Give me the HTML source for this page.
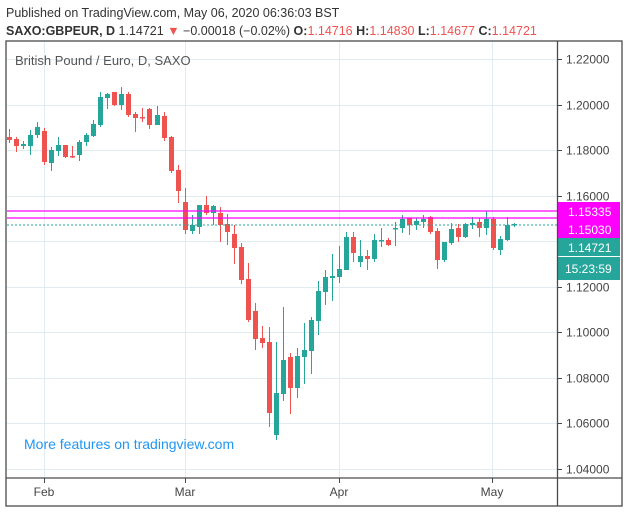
<!DOCTYPE html>
<html><head><meta charset="utf-8"><style>
html,body{margin:0;padding:0;background:#fff;width:629px;height:513px;overflow:hidden}
svg{display:block;font-family:"Liberation Sans",sans-serif}
</style></head><body>
<svg id="s" width="629" height="513" viewBox="0 0 629 513" xmlns="http://www.w3.org/2000/svg">
<rect width="629" height="513" fill="#fff"/>
<text x="6" y="17" font-size="12.5" fill="#333">Published on TradingView.com, May 06, 2020 06:36:03 BST</text>
<text x="6" y="35" font-size="12.5" fill="#333"><tspan font-weight="bold">SAXO:GBPEUR, D</tspan> 1.14721 <tspan fill="#ef5350">▼</tspan> −0.00018 (−0.02%) <tspan font-weight="bold">O:</tspan><tspan fill="#ef5350">1.14716</tspan> <tspan font-weight="bold">H:</tspan><tspan fill="#ef5350">1.14830</tspan> <tspan font-weight="bold">L:</tspan><tspan fill="#ef5350">1.14677</tspan> <tspan font-weight="bold">C:</tspan><tspan fill="#ef5350">1.14721</tspan></text>
<g id="grid" stroke="#e1ecf2" stroke-width="1"></g>
<g id="c"></g>
<line x1="7" y1="211" x2="557" y2="211" stroke="#ff00ff" stroke-width="1.3"/>
<line x1="7" y1="218" x2="557" y2="218" stroke="#ff00ff" stroke-width="1.3"/>
<line x1="7" y1="225" x2="557" y2="225" stroke="#26a69a" stroke-width="1" stroke-dasharray="2,2"/>
<text x="15" y="65" font-size="13" fill="#555">British Pound / Euro, D, SAXO</text>
<text x="24" y="449" font-size="14" fill="#2196f3">More features on tradingview.com</text>
<g id="ax" font-size="12" fill="#444"></g>
<rect x="558" y="202" width="62" height="36" fill="#ff00ff"/>
<text x="568" y="216" font-size="12" fill="#fff">1.15335</text>
<text x="568" y="234" font-size="12" fill="#fff">1.15030</text>
<rect x="558" y="238" width="62" height="18" fill="#26a69a"/>
<text x="568" y="252" font-size="12" fill="#fff">1.14721</text>
<rect x="558" y="257" width="62" height="23" fill="#26a69a"/>
<text x="565" y="273" font-size="12" fill="#fff">15:23:59</text>
<g fill="none" stroke="#4a4a4a" stroke-width="1.3">
<rect x="6" y="41" width="616" height="465"/>
<line x1="557.5" y1="41" x2="557.5" y2="506"/>
<line x1="6" y1="478" x2="622" y2="478"/>
</g>
</svg>
<script>
var NS="http://www.w3.org/2000/svg";
function el(p,t,a,txt){var e=document.createElementNS(NS,t);for(var k in a)e.setAttribute(k,a[k]);if(txt)e.textContent=txt;p.appendChild(e);return e;}
var g=document.getElementById('grid'),ax=document.getElementById('ax');
[44,185,339,492].forEach(function(x){el(g,'line',{x1:x+.5,y1:41,x2:x+.5,y2:478});});
var labs=["Feb","Mar","Apr","May"],xs=[44,185,339,492];
for(var i=0;i<4;i++){el(ax,'text',{x:xs[i],y:496,'text-anchor':'middle'},labs[i]);el(ax,'line',{x1:xs[i]+.5,y1:478,x2:xs[i]+.5,y2:483,stroke:'#4a4a4a'});}
for(var p=0;p<10;p++){var v=1.22-p*0.02,y=59+p*0.02*2278;y=Math.round(y)+.5;
 el(g,'line',{x1:7,y1:y,x2:557,y2:y});
 el(ax,'line',{x1:557,y1:y,x2:562,y2:y,stroke:'#4a4a4a'});
 if(p!=4)el(ax,'text',{x:566,y:y+4},v.toFixed(5));}
// [x, open, close, high, low] in y pixels
var d=[[9,137,140,129,143],[16,139,146,137,152],[23,146,144,141,149],[30,146,135,130,155],[37,135,127,122,138],
[44,131,162,128,165],[51,163,150,147,171],[58,151,145,137,156],[65,145,157,145,158],[72,156,156.5,146,158],
[79,155,142,140,161],[86,142,135,133,146],[93,136,124,120,137],[100,125,97,92,127],[107,98,94,93,109],
[114,92,105,92,106],[121,105,94,87,110],[128,94,115,92,117],[135,114,118,112,132],[142,117,117.5,108,122],
[149,109,125,108,129],[157,125,115,106,125],[164,116,138,112,141],[171,137,171,136,173],[178,170,191,165,203],
[185,202,230,188,234],[192,231,225,215,234],[199,227,205,205,234],[206,205,213,196,215],[213,213,206,205,225],
[220,213,225,207,242],[227,224,232,214,245],[234,234,248,225,264],[241,247,280,243,284],[248,279,320,263,322],
[255,311,339,303,350],[262,338,343,326,348],[269,342,413,327,427],[276,435,393,342,440],[283,394,360,307,401],
[290,357,388,353,414],[297,388,356,348,398],[304,357,350,323,384],[311,351,320,317,374],[318,321,291,281,335],
[325,292,277,270,305],[332,278,276,254,301],[339,277,269,246,283],[346,270,237,232,270],[353,237,253,232,262],
[360,262,256,240,267],[367,256,259,250,270],[374,259,240,234,262],[381,240.5,240,228,247],[388,240,245,238,246],
[395,228.5,228,222,246],[402,228,219,215,233],[409,218,225,218,235],[416,225,221,218,230],[423,222,219,215,228],
[430,217,232,216,234],[437,231,260,228,269],[444,260,242,242,262],[451,243,229,223,245],[458,228,237,224,242],
[465,237,224,223,238],[472,225,223,217,229],[479,222,228,218,237],[486,228,219,211,235],[493,219,248,217,250],
[500,250,239,236,255],[507,240,225,217,241],[514,224.5,224,223,227]];
var c=document.getElementById('c');
d.forEach(function(k){var up=k[2]<k[1],col=up?'#26a69a':'#ef5350';
 el(c,'line',{x1:k[0]+.5,y1:k[3],x2:k[0]+.5,y2:k[4],stroke:col,'stroke-width':1});
 var t=Math.min(k[1],k[2]),h=Math.max(Math.abs(k[1]-k[2]),1.5);
 el(c,'rect',{x:k[0]-2,y:t,width:5,height:h,fill:col});});
</script>
</body></html>
